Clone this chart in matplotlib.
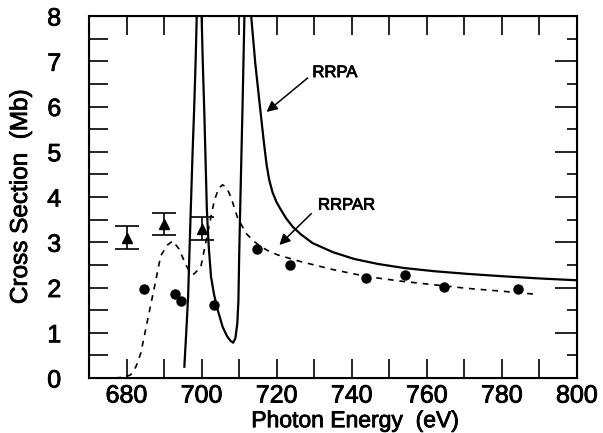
import matplotlib
matplotlib.use("Agg")
import matplotlib.pyplot as plt
import matplotlib.patheffects as pe
from matplotlib.ticker import MultipleLocator

plt.rcParams['font.family'] = ['Liberation Sans', 'DejaVu Sans']

# RRPA (solid) curve
rrpa_x = [695.4, 695.9, 696.4, 697.1, 697.6, 698.0, 698.4, 698.7, 699.35, 700.0, 700.3,
          700.7, 701.4, 701.9, 702.5, 703.3, 704.3, 705.6, 706.8, 707.7, 708.4, 709.0,
          709.5, 709.8, 710.0, 710.4, 710.9, 711.4, 712.3, 713.2, 714.3, 715.8, 716.6,
          717.3, 718.0, 718.9, 720.0, 721.1, 722.5, 724.3, 726.5, 729.6, 735.0, 740.7,
          747.0, 754.0, 762.0, 771.0, 780.0, 790.0, 800.0]
rrpa_y = [0.25, 1.0, 1.8, 3.7, 5.0, 5.92, 7.0, 8.0, 9.5, 8.0, 7.0,
          5.92, 3.71, 2.9, 2.24, 1.85, 1.5, 1.13, 0.92, 0.82, 0.78, 0.88,
          1.2, 1.7, 2.68, 4.2, 6.0, 8.0, 9.5, 8.0, 6.95, 5.8, 5.2,
          4.72, 4.38, 4.1, 3.88, 3.72, 3.53, 3.34, 3.17, 2.98, 2.78, 2.63,
          2.52, 2.43, 2.36, 2.3, 2.25, 2.2, 2.16]

# RRPAR (dashed) curve
rrpar_x = [677.0, 679.5, 681.1, 682.5, 683.8, 685.6, 687.4, 689.1, 690.9, 692.3, 694.0,
           695.8, 697.1, 698.0, 699.8, 701.6, 703.4, 704.6, 705.6, 706.7, 707.8, 709.5,
           711.8, 713.8, 715.8, 718.0, 720.3, 726.5, 735.3, 744.2, 753.1, 762.0, 770.9,
           779.8, 789.1]
rrpar_y = [0.0, 0.02, 0.07, 0.25, 0.55, 1.28, 2.0, 2.7, 2.94, 3.03, 2.85,
           2.5, 2.31, 2.3, 2.46, 3.2, 3.93, 4.2, 4.27, 4.2, 4.0, 3.56,
           3.2, 3.03, 2.9, 2.8, 2.72, 2.57, 2.39, 2.24, 2.14, 2.06, 1.98,
           1.92, 1.85]

# Experimental points: triangles with error bars
tri_x = [680, 690, 700]
tri_y = [3.1, 3.4, 3.3]
tri_err = [0.25, 0.25, 0.25]

# Experimental points: circles
circ_x = [684.7, 692.9, 694.5, 703.2, 714.7, 723.6, 743.9, 754.3, 764.7, 784.3]
circ_y = [1.96, 1.85, 1.70, 1.61, 2.86, 2.50, 2.22, 2.28, 2.02, 1.97]

thick = [pe.withStroke(linewidth=0.6, foreground='black')]

fig = plt.figure(figsize=(6.03, 4.33), dpi=100)
ax = fig.add_axes([0.1476, 0.127, 0.8093, 0.836])

ax.plot(rrpa_x, rrpa_y, color='black', lw=1.6, solid_joinstyle='round')
ax.plot(rrpar_x, rrpar_y, color='black', lw=1.2, dashes=(3.5, 3.5))
ax.errorbar(tri_x, tri_y, yerr=tri_err, fmt='^', color='black', ms=6.5,
            capsize=8.5, elinewidth=1.2, capthick=1.2)
ax.plot(circ_x, circ_y, 'o', color='black', ms=6.5)

ax.annotate('RRPA', xy=(717.3, 5.88), xytext=(729.5, 6.75),
            fontsize=12, va='center', ha='left', path_effects=thick,
            arrowprops=dict(arrowstyle='-|>', color='black', lw=1.1,
                            mutation_scale=16, shrinkA=1, shrinkB=0,
                            relpos=(-0.08, 0.2)))
ax.annotate('RRPAR', xy=(720.7, 2.94), xytext=(731.0, 3.82),
            fontsize=12, va='center', ha='left', path_effects=thick,
            arrowprops=dict(arrowstyle='-|>', color='black', lw=1.1,
                            mutation_scale=16, shrinkA=1, shrinkB=0,
                            relpos=(-0.1, 0.0)))

ax.set_xlim(670, 800)
ax.set_ylim(0, 8)
ax.xaxis.set_major_locator(MultipleLocator(20))
ax.xaxis.set_minor_locator(MultipleLocator(10))
ax.yaxis.set_major_locator(MultipleLocator(1))
ax.yaxis.set_minor_locator(MultipleLocator(0.5))

ax.tick_params(axis='x', which='both', direction='in', length=14, width=1.2,
               top=True, bottom=True, labelsize=18, pad=4)
ax.tick_params(axis='y', which='both', direction='in', length=14, width=1.2,
               left=True, right=False, labelsize=18, pad=20)
for s in ax.spines.values():
    s.set_linewidth(1.5)
for lab in ax.get_xticklabels() + ax.get_yticklabels():
    lab.set_path_effects(thick)

ax2 = ax.twinx()
ax2.set_ylim(0, 8)
ax2.yaxis.set_major_locator(MultipleLocator(1))
ax2.yaxis.set_minor_locator(MultipleLocator(0.5))
ax2.tick_params(axis='y', which='major', direction='in', length=16, width=1.2,
                labelright=False)
ax2.tick_params(axis='y', which='minor', direction='in', length=7, width=1.2)

ax.set_xlabel('Photon Energy  (eV)', fontsize=16.5, path_effects=thick)
ax.set_ylabel('Cross Section  (Mb)', fontsize=17.5, path_effects=thick)
ax.xaxis.set_label_coords(0.545, -0.086)
ax.yaxis.set_label_coords(-0.117, 0.5)

fig.savefig('out.png', dpi=100)
